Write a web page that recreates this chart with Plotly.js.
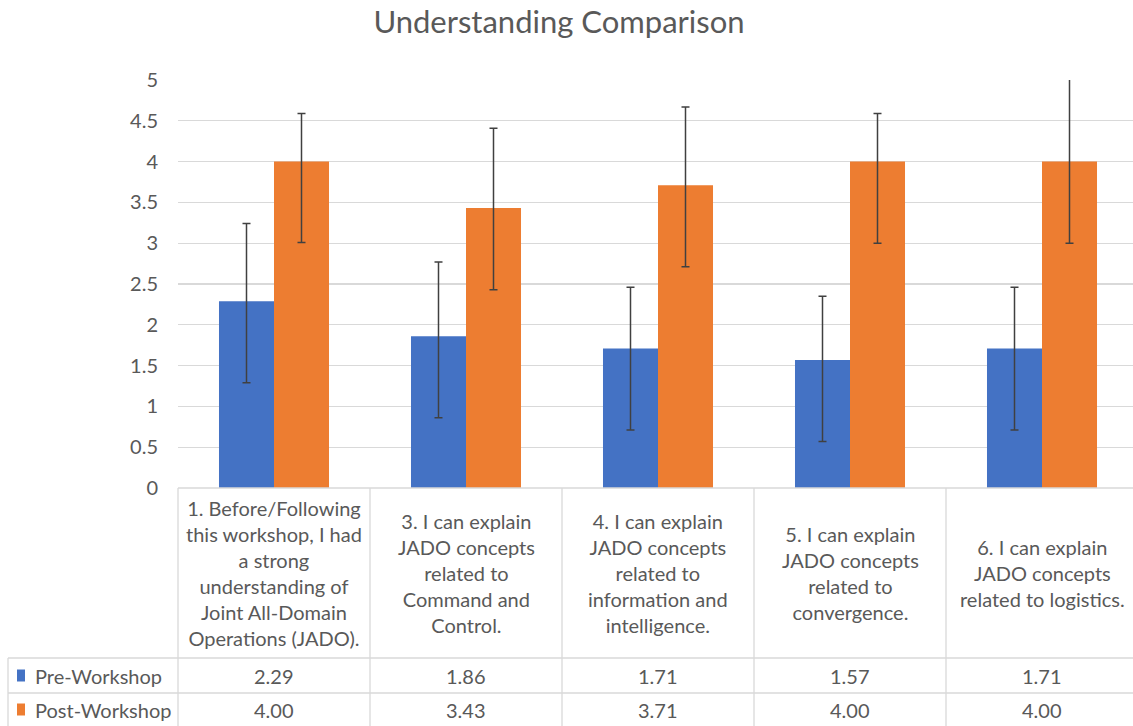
<!DOCTYPE html>
<html>
<head>
<meta charset="utf-8">
<script src="https://cdn.plot.ly/plotly-3.0.1.min.js"></script>
<style>html,body{margin:0;padding:0;background:#fff;}#chart{width:1133px;height:726px;}</style>
</head>
<body>
<div id="chart"></div>
<script>
// ---- data ----
const categories = [
  "1. Before/Following<br>this workshop, I had<br>a strong<br>understanding of<br>Joint All-Domain<br>Operations (JADO).",
  "3. I can explain<br>JADO concepts<br>related to<br>Command and<br>Control.",
  "4. I can explain<br>JADO concepts<br>related to<br>information and<br>intelligence.",
  "5. I can explain<br>JADO concepts<br>related to<br>convergence.",
  "6. I can explain<br>JADO concepts<br>related to logistics."
];
const seriesNames = ["Pre-Workshop", "Post-Workshop"];
const preValues = [2.29, 1.86, 1.71, 1.57, 1.71];
const postValues = [4.00, 3.43, 3.71, 4.00, 4.00];
const preErrPlus = [0.95, 0.91, 0.75, 0.78, 0.75];
const preErrMinus = [1.0, 1.0, 1.0, 1.0, 1.0];
const postErrPlus = [0.59, 0.98, 0.96, 0.59, 1.1];
const postErrMinus = [0.99, 1.0, 1.0, 1.0, 1.0];
const yTicks = [0, 0.5, 1, 1.5, 2, 2.5, 3, 3.5, 4, 4.5, 5];

// ---- layout constants ----
const W = 1133, H = 726;
const L = 178, T = 80, B = 238, R = 0;
const plotW = W - L - R, plotH = H - T - B;
const catW = 192;
const xMin = -0.5, xMax = xMin + plotW / catW;
const colors = ["#4472C4", "#ED7D31"];
const textColor = "#595959";
const lineColor = "#d9d9d9";
const fontFam = "Lato, 'Open Sans', sans-serif";

const px2py = y => (H - B - y) / plotH;      // pixel y -> paper y
const px2px = x => (x - L) / plotW;          // pixel x -> paper x
const cat2px = v => (v - xMin) / (xMax - xMin); // category position -> paper x

const xIdx = categories.map((c, i) => i);

const errStyle = {type: "data", symmetric: false, color: "#404040", thickness: 1.5, width: 4};

const traces = [
  {type: "bar", name: seriesNames[0], x: xIdx, y: preValues, marker: {color: colors[0]},
   error_y: Object.assign({array: preErrPlus, arrayminus: preErrMinus}, errStyle), hoverinfo: "y"},
  {type: "bar", name: seriesNames[1], x: xIdx, y: postValues, marker: {color: colors[1]},
   error_y: Object.assign({array: postErrPlus, arrayminus: postErrMinus}, errStyle), hoverinfo: "y"}
];

// ---- table (data table below axis) ----
const rowTop = 488, rowHead = 658, rowMid = 693, rowBot = 726;
const shapes = [];
const lineH = (y, x0, x1) => shapes.push({type: "line", xref: "paper", yref: "paper",
  x0: x0, x1: x1, y0: px2py(y), y1: px2py(y), line: {color: lineColor, width: 1.3}});
const lineV = (x, y0, y1) => shapes.push({type: "line", xref: "paper", yref: "paper",
  x0: x, x1: x, y0: px2py(y0), y1: px2py(y1), line: {color: lineColor, width: 1.3}});

lineH(rowTop, 0, 1.01);
lineH(rowHead, px2px(8), 1.01);
lineH(rowMid, px2px(8), 1.01);
for (let i = 0; i <= categories.length; i++) lineV(cat2px(i - 0.5), rowTop, rowBot);
lineV(px2px(8), rowHead, rowBot);

// legend keys
[[675.5, colors[0]], [709.5, colors[1]]].forEach(([cy, col]) => {
  shapes.push({type: "rect", xref: "paper", yref: "paper",
    x0: px2px(17), x1: px2px(25), y0: px2py(cy - 6), y1: px2py(cy + 6),
    fillcolor: col, line: {width: 0}});
});

const tableFont = {family: fontFam, size: 20, color: textColor};
const annotations = [];
categories.forEach((c, i) => {
  annotations.push({xref: "x", yref: "paper", x: i, y: px2py(573), text: c, showarrow: false,
    xanchor: "center", yanchor: "middle", align: "center", font: tableFont});
  annotations.push({xref: "x", yref: "paper", x: i, y: px2py(675.5), text: preValues[i].toFixed(2),
    showarrow: false, xanchor: "center", yanchor: "middle", font: tableFont});
  annotations.push({xref: "x", yref: "paper", x: i, y: px2py(709.5), text: postValues[i].toFixed(2),
    showarrow: false, xanchor: "center", yanchor: "middle", font: tableFont});
});
[[675.5, seriesNames[0]], [709.5, seriesNames[1]]].forEach(([cy, name]) => {
  annotations.push({xref: "paper", yref: "paper", x: px2px(33), y: px2py(cy), text: name,
    showarrow: false, xanchor: "left", yanchor: "middle", font: tableFont});
});

const layout = {
  width: W, height: H,
  margin: {l: L, r: R, t: T, b: B, pad: 0},
  paper_bgcolor: "#fff", plot_bgcolor: "#fff",
  title: {text: "Understanding Comparison", x: 559 / W, xanchor: "center", y: 1 - 22 / H, yanchor: "middle",
    font: {family: fontFam, size: 31, color: textColor}},
  showlegend: false,
  barmode: "group", bargap: 0.427, bargroupgap: 0,
  xaxis: {type: "linear", range: [xMin, xMax], showticklabels: false, showgrid: false,
    zeroline: false, showline: false, ticks: "", fixedrange: true},
  yaxis: {range: [0, 5], tickvals: yTicks, ticktext: yTicks.map(v => String(v)),
    showgrid: true, gridcolor: lineColor, gridwidth: 1.3, zeroline: false, showline: false,
    ticks: "", ticklabelstandoff: 19,
    tickfont: {family: fontFam, size: 20, color: textColor}, fixedrange: true},
  shapes: shapes,
  annotations: annotations,
  font: {family: fontFam, color: textColor}
};

Plotly.newPlot("chart", traces, layout, {displayModeBar: false, staticPlot: true});
</script>
</body>
</html>
